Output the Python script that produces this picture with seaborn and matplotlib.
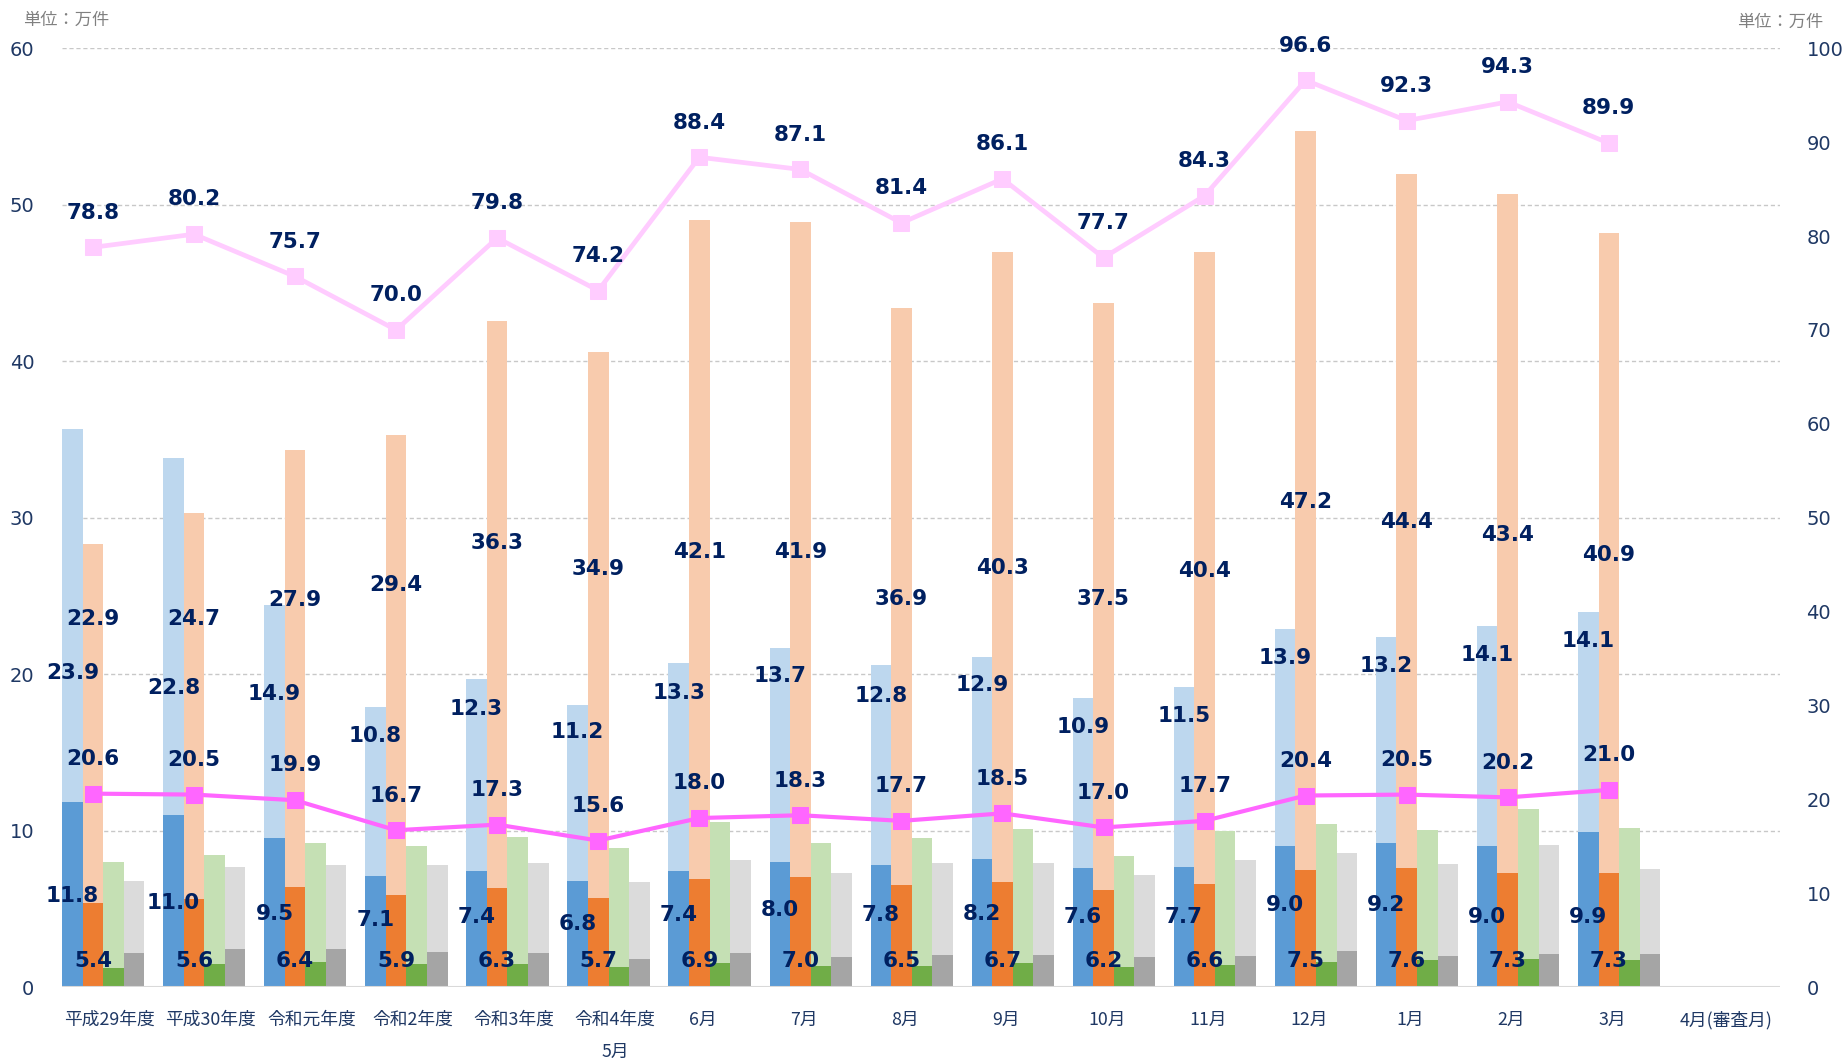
import numpy as np
import pandas as pd
import seaborn as sns
import matplotlib.pyplot as plt

# ---- data (万件) ----
categories = ['平成29年度', '平成30年度', '令和元年度', '令和2年度', '令和3年度', '令和4年度\n5月',
              '6月', '7月', '8月', '9月', '10月', '11月', '12月', '1月', '2月', '3月', '4月(審査月)']

blue_dark = [11.8, 11.0, 9.5, 7.1, 7.4, 6.8, 7.4, 8.0, 7.8, 8.2, 7.6, 7.7, 9.0, 9.2, 9.0, 9.9]
blue_light = [23.9, 22.8, 14.9, 10.8, 12.3, 11.2, 13.3, 13.7, 12.8, 12.9, 10.9, 11.5, 13.9, 13.2, 14.1, 14.1]
orange_dark = [5.4, 5.6, 6.4, 5.9, 6.3, 5.7, 6.9, 7.0, 6.5, 6.7, 6.2, 6.6, 7.5, 7.6, 7.3, 7.3]
orange_light = [22.9, 24.7, 27.9, 29.4, 36.3, 34.9, 42.1, 41.9, 36.9, 40.3, 37.5, 40.4, 47.2, 44.4, 43.4, 40.9]
green_dark = [1.2, 1.5, 1.6, 1.45, 1.45, 1.3, 1.55, 1.35, 1.35, 1.55, 1.3, 1.4, 1.6, 1.7, 1.8, 1.7]
green_total = [8.0, 8.45, 9.2, 9.0, 9.6, 8.9, 10.55, 9.2, 9.5, 10.1, 8.35, 10.0, 10.45, 10.05, 11.4, 10.15]
grey_dark = [2.2, 2.4, 2.4, 2.25, 2.15, 1.8, 2.15, 1.95, 2.05, 2.05, 1.9, 2.0, 2.3, 2.0, 2.1, 2.1]
grey_total = [6.8, 7.65, 7.8, 7.8, 7.9, 6.7, 8.15, 7.3, 7.9, 7.9, 7.15, 8.1, 8.55, 7.85, 9.1, 7.55]

total_all = [78.8, 80.2, 75.7, 70.0, 79.8, 74.2, 88.4, 87.1, 81.4, 86.1, 77.7, 84.3, 96.6, 92.3, 94.3, 89.9]
total_dark = [20.6, 20.5, 19.9, 16.7, 17.3, 15.6, 18.0, 18.3, 17.7, 18.5, 17.0, 17.7, 20.4, 20.5, 20.2, 21.0]

# label heights as placed in the original chart (left axis units)
lab_y_blue_light = [20.1, 19.1, 18.75, 16.05, 17.8, 16.3, 18.8, 19.9, 18.6, 19.3, 16.65, 17.3, 21.0, 20.55, 21.2, 22.1]
lab_y_orange_light = [23.5, 23.5, 24.75, 25.7, 28.4, 26.7, 27.8, 27.8, 24.8, 26.8, 24.8, 26.6, 31.0, 29.7, 28.9, 27.6]
lab_y_blue_dark = [5.8, 5.4, 4.65, 4.3, 4.5, 4.0, 4.6, 4.9, 4.6, 4.65, 4.5, 4.5, 5.25, 5.25, 4.5, 4.5]
lab_y_orange_dark = 1.65

series = ['blue', 'orange', 'green', 'grey']
light_colors = ['#BDD7EE', '#F8CBAD', '#C5E0B4', '#DBDBDB']
dark_colors = ['#5B9BD5', '#ED7D31', '#70AD47', '#A5A5A5']
navy = '#002060'
tick_navy = '#1F3864'

n = len(blue_dark)
blue_total = np.add(blue_dark, blue_light)
orange_total = np.add(orange_dark, orange_light)

rows = []
for i in range(n):
    tots = [blue_total[i], orange_total[i], green_total[i], grey_total[i]]
    darks = [blue_dark[i], orange_dark[i], green_dark[i], grey_dark[i]]
    for s, t, d in zip(series, tots, darks):
        rows.append({'cat': categories[i], 'series': s, 'total': t, 'dark': d})
df = pd.DataFrame(rows)

sns.set_theme(style='white')
plt.rcParams['font.family'] = ['DejaVu Sans', 'Noto Sans CJK JP']
cjk = ['Noto Sans CJK JP', 'DejaVu Sans']

fig = plt.figure(figsize=(18.42, 10.58), dpi=100)
ax = fig.add_axes([0.0337, 0.0671, 0.9327, 0.8872])

group_w = 0.814
bw = group_w / 4
sns.barplot(data=df, x='cat', y='total', hue='series', order=categories, hue_order=series,
            palette=light_colors, width=group_w, gap=0, saturation=1, errorbar=None,
            linewidth=0, legend=False, ax=ax)
sns.barplot(data=df, x='cat', y='dark', hue='series', order=categories, hue_order=series,
            palette=dark_colors, width=group_w, gap=0, saturation=1, errorbar=None,
            linewidth=0, legend=False, ax=ax)

ax.set_ylim(0, 60)
ax.set_yticks(range(0, 61, 10))
ax.set_axisbelow(True)
ax.yaxis.grid(True, linestyle=(0, (3, 2)), color='#C8C8C8', linewidth=1)
ax.axhline(0, color='#D9D9D9', linewidth=1.5, zorder=3)
ax.set_xlabel('')
ax.set_ylabel('')

idx = np.arange(n)
x_blue = idx - 1.5 * bw
x_orange = idx - 0.5 * bw

lab_kw = dict(ha='center', va='center', fontsize=15.5, fontweight='bold', color=navy, zorder=5)
for i in range(n):
    ax.text(x_blue[i], lab_y_blue_light[i], f'{blue_light[i]:.1f}', **lab_kw)
    ax.text(x_orange[i], lab_y_orange_light[i], f'{orange_light[i]:.1f}', **lab_kw)
    ax.text(x_blue[i], lab_y_blue_dark[i], f'{blue_dark[i]:.1f}', **lab_kw)
    ax.text(x_orange[i], lab_y_orange_dark, f'{orange_dark[i]:.1f}', **lab_kw)

# lines on right axis
ax2 = ax.twinx()
sns.lineplot(x=x_orange, y=total_all, ax=ax2, color='#FFCCFF', linewidth=3.4, marker='s',
             markersize=11, markeredgecolor='#FFCCFF', sort=False)
sns.lineplot(x=x_orange, y=total_dark, ax=ax2, color='#FF66FF', linewidth=3.0, marker='s',
             markersize=11, markeredgecolor='#FF66FF', sort=False)
for i in range(n):
    for v in (total_all[i], total_dark[i]):
        ax2.annotate(f'{v:.1f}', (x_orange[i], v), xytext=(0, 25), textcoords='offset points',
                     ha='center', va='center', fontsize=15.5, fontweight='bold', color=navy)
ax2.set_ylim(0, 100)
ax2.set_yticks(range(0, 101, 10))
ax2.set_ylabel('')

# x ticks
tick_x = [j - group_w / 2 + (0.47 if len(c.split('\n')[0]) > 4 else 0.34) for j, c in enumerate(categories)]
ax.set_xticks(tick_x)
ax.set_xticklabels(categories)
for lab in ax.get_xticklabels():
    lab.set_fontfamily(cjk)
    lab.set_linespacing(2.0)
ax.set_xlim(-group_w / 2, len(categories) - group_w / 2)

ax.tick_params(axis='x', length=0, pad=17, labelsize=12.8, labelcolor=tick_navy)
ax.tick_params(axis='y', length=0, pad=20, labelsize=14, labelcolor=tick_navy)
ax2.tick_params(axis='y', length=0, pad=19, labelsize=14, labelcolor=tick_navy)
for a in (ax, ax2):
    for sp in a.spines.values():
        sp.set_visible(False)

fig.text(0.0125, 0.981, '単位：万件', ha='left', va='center', fontsize=12.4, color='#808080', family=cjk)
fig.text(0.990, 0.979, '単位：万件', ha='right', va='center', fontsize=12.4, color='#808080', family=cjk)

fig.savefig('out.png', dpi=100)
